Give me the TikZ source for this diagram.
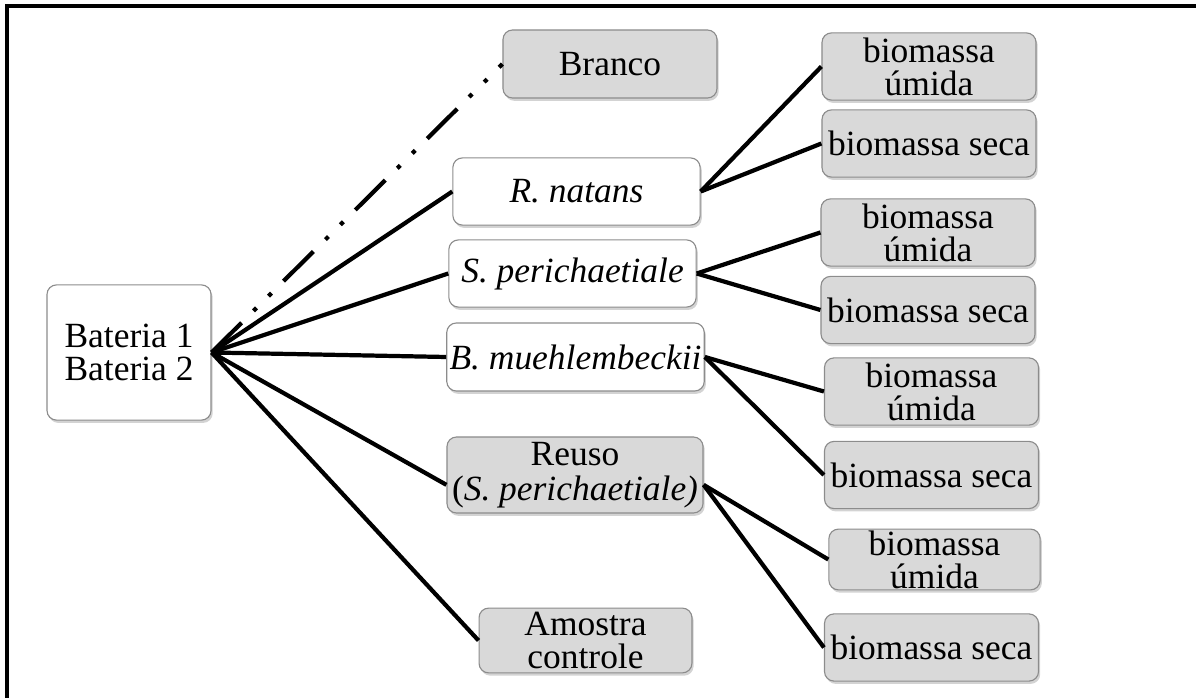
\documentclass[tikz,border=0pt]{standalone}
\usepackage{fontspec}
\setmainfont{Liberation Serif}
\usetikzlibrary{shadows}

\begin{document}
\begin{tikzpicture}[x=0.0125cm,y=-0.0125cm,
  box/.style={draw=black!45,rounded corners=1.2mm,inner sep=1pt,align=center,
    font=\fontsize{12.6}{11.8}\selectfont,fill=white,
    drop shadow={opacity=0.35,shadow xshift=0.6pt,shadow yshift=-1pt}},
  greybox/.style={box,fill=black!15},
  biobox/.style={greybox,minimum width=2.675cm,minimum height=0.84cm},
  link/.style={line width=1.5pt}]

  \useasboundingbox (0,0) rectangle (1196,698);
  \draw[line width=1.1pt] (7,698) -- (7,6) -- (1196,6);

  % left and middle column
  \node[box,minimum width=2.05cm,minimum height=1.69cm] (bat) at (129,352.5) {Bateria 1\\Bateria 2};
  \node[greybox,minimum width=2.675cm,minimum height=0.85cm] (br) at (610,64) {Branco};
  \node[box,minimum width=3.09cm,minimum height=0.84cm] (rn) at (576.5,191.5) {\textit{R. natans}};
  \node[box,minimum width=3.09cm,minimum height=0.84cm] (sp) at (572.5,273.5) {\textit{S. perichaetiale}};
  \node[box,minimum width=3.14cm,minimum height=0.85cm] (bm) at (575.5,357) {\textit{B. muehlembeckii}};
  \node[greybox,minimum width=3.2cm,minimum height=0.95cm,font=\fontsize{12.6}{12.6}\selectfont] (re) at (575,475) {Reuso\\(\textit{S. perichaetiale)}};
  \node[greybox,minimum width=2.66cm,minimum height=0.81cm] (am) at (585.5,640.5) {Amostra\\controle};

  % right column
  \foreach \n/\x/\y in {u1/929/66.5,u2/928/232.5,u3/931.5/391.5}
    \node[biobox] (\n) at (\x,\y) {biomassa\\úmida};
  \node[biobox,inner sep=0.3pt,minimum width=2.64cm,minimum height=0.76cm] (u4) at (934.5,559.5) {biomassa\\úmida};
  \foreach \n/\x/\y in {s1/929/143.5,s2/928/310,s3/931.5/475,s4/931.5/647.5}
    \node[biobox] (\n) at (\x,\y) {biomassa seca};

  % connectors
  \draw[link,dash pattern=on 15pt off 6pt on 1.5pt off 6pt on 1.5pt off 6pt] (bat.east) -- (br.west);
  \foreach \m in {rn,sp,bm,am}
    \draw[link] (bat.east) -- (\m.west);
  \draw[link] (bat.east) -- ([yshift=-3.5pt]re.west);
  \draw[link] (rn.east) -- (u1.west);
  \draw[link] (rn.east) -- (s1.west);
  \draw[link] (sp.east) -- (u2.west);
  \draw[link] (sp.east) -- (s2.west);
  \draw[link] (bm.east) -- (u3.west);
  \draw[link] (bm.east) -- (s3.west);
  \draw[link] ([yshift=-3.5pt]re.east) -- (u4.west);
  \draw[link] ([yshift=-3.5pt]re.east) -- (s4.west);

\end{tikzpicture}
\end{document}
